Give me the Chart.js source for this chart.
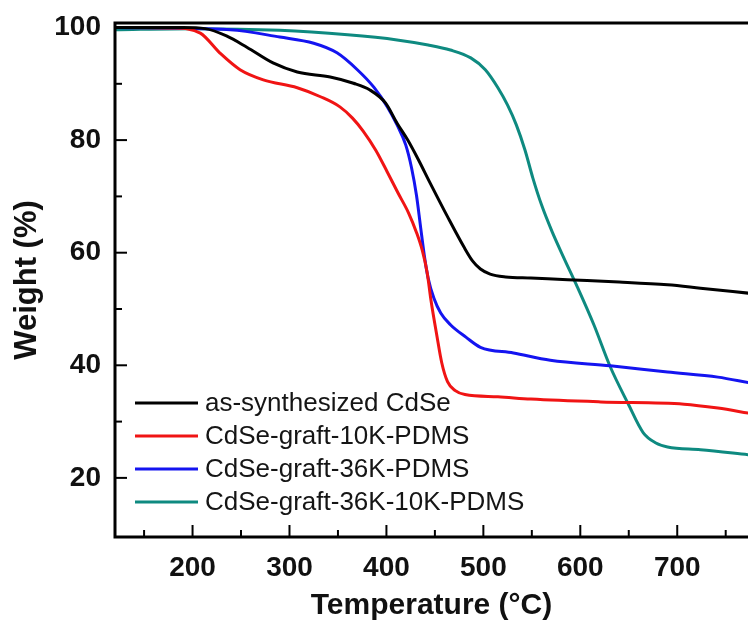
<!DOCTYPE html>
<html>
<head>
<meta charset="utf-8">
<script src="https://cdn.jsdelivr.net/npm/chart.js@4.4.0/dist/chart.umd.min.js"></script>
<style>
  html, body { margin: 0; padding: 0; background: #fff; }
  #wrap { width: 748px; height: 625px; }
</style>
</head>
<body>
<div id="wrap"><canvas id="tga"></canvas></div>
<script>
// Dados (temperatura em °C, massa em %)
const tempBlack = [120, 190, 213, 235, 256, 283, 308, 342, 366, 383, 399, 411, 422, 433, 445, 463, 480, 489, 497, 507, 523, 549, 587, 640, 690, 724, 774];
const pesoBlack = [100, 100, 99.8, 98.5, 96.5, 93.7, 92.1, 91.2, 90.1, 88.9, 86.6, 83.0, 80.0, 76.5, 72.4, 66.4, 61.0, 58.5, 57.1, 56.2, 55.7, 55.5, 55.2, 54.8, 54.3, 53.7, 52.8];

const tempRed = [120, 180, 208, 228, 249, 273, 308, 332, 352, 365, 376, 389, 401, 412, 423, 431, 437, 442, 446, 452, 457, 463, 471, 481, 515, 549, 621, 707, 742, 774];
const pesoRed = [100, 99.9, 99.0, 95.5, 92.5, 90.7, 89.3, 87.7, 85.9, 83.9, 81.6, 78.2, 74.3, 70.6, 67.0, 63.6, 60.4, 56.5, 51.5, 45.3, 40.5, 37.1, 35.5, 34.8, 34.4, 34.0, 33.5, 33.1, 32.4, 31.5];

const tempBlue = [120, 239, 290, 325, 349, 370, 387, 401, 411, 420, 426, 431, 435, 439, 443, 449, 456, 466, 482, 497, 531, 569, 631, 690, 742, 774];
const pesoBlue = [100, 99.6, 98.3, 97.2, 95.5, 92.5, 89.4, 85.9, 82.7, 79.1, 75.0, 70.2, 64.9, 59.6, 55.5, 51.9, 49.3, 47.2, 45.0, 43.2, 42.2, 40.9, 39.9, 38.8, 37.9, 36.9];

const tempTeal = [120, 200, 290, 360, 411, 443, 466, 487, 502, 515, 525, 534, 543, 551, 560, 571, 583, 597, 614, 631, 649, 665, 678, 690, 724, 774];
const pesoTeal = [99.6, 99.8, 99.5, 98.7, 97.8, 96.9, 96.0, 94.6, 92.5, 89.3, 86.2, 82.7, 78.2, 73.3, 68.5, 63.7, 59.1, 53.9, 47.2, 39.7, 33.3, 28.0, 26.2, 25.5, 25.0, 24.1];

const nomes = ["as-synthesized CdSe", "CdSe-graft-10K-PDMS", "CdSe-graft-36K-PDMS", "CdSe-graft-36K-10K-PDMS"];
const cores = ["#000000", "#f01414", "#1414f0", "#0e8a80"];

const xTicks = [150, 200, 250, 300, 350, 400, 450, 500, 550, 600, 650, 700, 750];
const yTicks = [20, 30, 40, 50, 60, 70, 80, 90, 100];

function pares(t, w) {
    return t.map((v, i) => ({ x: v, y: w[i] }));
}

const series = [
    pares(tempBlack, pesoBlack),
    pares(tempRed, pesoRed),
    pares(tempBlue, pesoBlue),
    pares(tempTeal, pesoTeal),
];

// Moldura, ticks para dentro e legenda
const moldura = {
    id: "moldura",
    afterDraw(chart) {
        const ctx = chart.ctx;
        const a = chart.chartArea;
        const xs = chart.scales.x;
        const ys = chart.scales.y;
        ctx.save();
        ctx.strokeStyle = "#000";
        ctx.lineWidth = 2;
        xTicks.forEach(v => {
            const px = xs.getPixelForValue(v);
            const len = v % 100 === 0 ? 12 : 7;
            ctx.beginPath();
            ctx.moveTo(px, a.bottom);
            ctx.lineTo(px, a.bottom - len);
            ctx.stroke();
        });
        yTicks.forEach(v => {
            const py = ys.getPixelForValue(v);
            const len = v % 20 === 0 ? 12 : 7;
            ctx.beginPath();
            ctx.moveTo(a.left, py);
            ctx.lineTo(a.left + len, py);
            ctx.stroke();
        });
        ctx.lineWidth = 3;
        ctx.beginPath();
        ctx.moveTo(a.right + 2, a.top);
        ctx.lineTo(a.left, a.top);
        ctx.lineTo(a.left, a.bottom);
        ctx.lineTo(a.right + 2, a.bottom);
        ctx.stroke();

        // legenda
        ctx.font = "26px 'Liberation Sans', Arial, sans-serif";
        ctx.textBaseline = "middle";
        ctx.fillStyle = "#151515";
        nomes.forEach((nome, i) => {
            const y = 403 + i * 33;
            ctx.strokeStyle = cores[i];
            ctx.lineWidth = 3;
            ctx.beginPath();
            ctx.moveTo(135, y);
            ctx.lineTo(198, y);
            ctx.stroke();
            ctx.fillText(nome, 205, y + 1);
        });
        ctx.restore();
    }
};

new Chart(document.getElementById("tga").getContext("2d"), {
    type: "scatter",
    data: {
        datasets: series.map((d, i) => ({
            label: nomes[i],
            data: d,
            showLine: true,
            borderColor: cores[i],
            borderWidth: 3,
            pointRadius: 0,
            cubicInterpolationMode: "monotone",
            fill: false,
        })),
    },
    options: {
        responsive: true,
        maintainAspectRatio: false,
        animation: false,
        layout: { padding: { top: 23, right: 0, left: 0, bottom: 0 } },
        plugins: { legend: { display: false }, tooltip: { enabled: false } },
        scales: {
            x: {
                type: "linear",
                min: 120,
                max: 773,
                grid: { display: false, drawTicks: false },
                border: { display: false },
                afterBuildTicks(scale) {
                    scale.ticks = [200, 300, 400, 500, 600, 700].map(v => ({ value: v }));
                },
                afterFit(scale) { scale.height = 88; },
                ticks: {
                    padding: 14,
                    color: "#111",
                    font: { family: "'Liberation Sans', Arial, sans-serif", size: 28, weight: "bold" },
                },
                title: {
                    display: true,
                    text: "Temperature (°C)",
                    color: "#111",
                    padding: { top: 0, bottom: 4 },
                    font: { family: "'Liberation Sans', Arial, sans-serif", size: 30, weight: "bold", lineHeight: 1 },
                },
            },
            y: {
                type: "linear",
                min: 9.5,
                max: 100.8,
                grid: { display: false, drawTicks: false },
                border: { display: false },
                afterBuildTicks(scale) {
                    scale.ticks = [20, 40, 60, 80, 100].map(v => ({ value: v }));
                },
                afterFit(scale) { scale.width = 115; },
                ticks: {
                    padding: 14,
                    color: "#111",
                    font: { family: "'Liberation Sans', Arial, sans-serif", size: 28, weight: "bold", lineHeight: 0.5 },
                },
                title: {
                    display: true,
                    text: "Weight (%)",
                    color: "#111",
                    padding: { top: 12, bottom: 0 },
                    font: { family: "'Liberation Sans', Arial, sans-serif", size: 31, weight: "bold", lineHeight: 1 },
                },
            },
        },
    },
    plugins: [moldura],
});
</script>
</body>
</html>
